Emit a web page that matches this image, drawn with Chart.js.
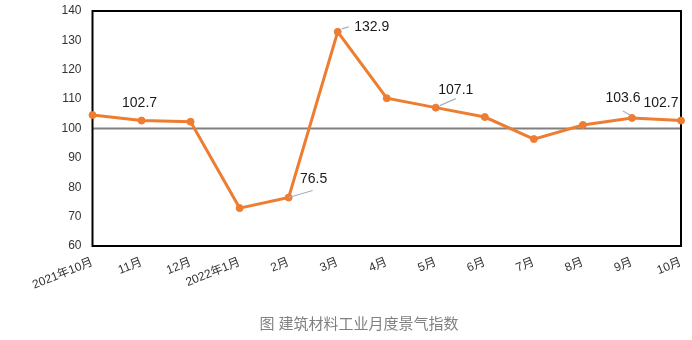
<!DOCTYPE html>
<html><head><meta charset="utf-8">
<script src="https://cdn.jsdelivr.net/npm/chart.js@4"></script>
<style>html,body{margin:0;padding:0;background:#fff}#wrap{width:692px;height:340px;position:relative}</style>
</head><body><div id="wrap"><canvas id="c"></canvas></div>
<script>
const categories = ['2021年10月','11月','12月','2022年1月','2月','3月','4月','5月','6月','7月','8月','9月','10月'];
const indexValues = [104.6,102.7,102.3,72.9,76.5,132.9,110.3,107.1,103.9,96.4,101.2,103.6,102.7];
const yTicks = [60,70,80,90,100,110,120,130,140];
const referenceValue = 100;
const labeledIndices = [1,4,5,7,11,12];
const chartTitle = '图 建筑材料工业月度景气指数';

// label placement styles (relative to the point)
const labelStyle = {
  1:{dx:-2,dy:-17.5},
  4:{dx:25,dy:-18,leader:[0,0,24,-7]},
  5:{dx:34,dy:-4.5,leader:[4,-3,11,-5]},
  7:{dx:20,dy:-17.5,leader:[4,-2,20,-9]},
  11:{dx:-9,dy:-20,leader:[-9,-7,-2,-3]},
  12:{dx:-20,dy:-17.5}
};
const FONT = '"Liberation Sans","Noto Sans CJK SC",sans-serif';

const overlay = {
  id:'overlay',
  beforeDatasetsDraw(chart){
    const {ctx, chartArea:a, scales:{y}} = chart;
    const py = y.getPixelForValue(referenceValue);
    ctx.save();
    ctx.strokeStyle = '#808080'; ctx.lineWidth = 2;
    ctx.beginPath(); ctx.moveTo(a.left, py); ctx.lineTo(a.right, py); ctx.stroke();
    ctx.strokeStyle = '#000'; ctx.lineWidth = 2;
    ctx.strokeRect(a.left, a.top, a.right - a.left, a.bottom - a.top);
    ctx.restore();
  },
  afterDatasetsDraw(chart){
    const {ctx} = chart;
    const meta = chart.getDatasetMeta(0);
    ctx.save();
    labeledIndices.forEach(i=>{
      const p = meta.data[i]; const s = labelStyle[i];
      if (s.leader){
        ctx.strokeStyle = '#a3b2c6'; ctx.lineWidth = 1.2;
        ctx.beginPath(); ctx.moveTo(p.x+s.leader[0], p.y+s.leader[1]); ctx.lineTo(p.x+s.leader[2], p.y+s.leader[3]); ctx.stroke();
      }
      ctx.fillStyle = '#1a1a1a'; ctx.font = '14px '+FONT;
      ctx.textAlign = 'center'; ctx.textBaseline = 'middle';
      ctx.fillText(indexValues[i].toFixed(1), p.x+s.dx, p.y+s.dy);
    });
    ctx.fillStyle = '#808080'; ctx.font = '15px '+FONT;
    ctx.textAlign = 'center'; ctx.textBaseline = 'middle';
    ctx.fillText(chartTitle, 359, 325);
    ctx.restore();
  }
};

new Chart(document.getElementById('c'), {
  type:'line',
  data:{labels:categories, datasets:[{
    data:indexValues, borderColor:'#ED7D31', backgroundColor:'#ED7D31',
    borderWidth:3, pointRadius:3.5, pointBorderWidth:1, pointHoverRadius:3.5, tension:0, clip:false
  }]},
  options:{
    responsive:true, maintainAspectRatio:false, animation:false,
    layout:{padding:{top:11,right:11,left:0,bottom:0}},
    plugins:{legend:{display:false}, tooltip:{enabled:false}, title:{display:false}},
    scales:{
      x:{
        offset:false,
        grid:{display:false, drawTicks:false}, border:{display:false},
        ticks:{autoSkip:false, maxRotation:22, minRotation:22, padding:9, color:'#333', font:{family:FONT, size:12}},
        afterFit(s){ s.height = 94; s.paddingLeft = 0; s.paddingRight = 0; s.paddingTop = 0; s.paddingBottom = 0; }
      },
      y:{
        min:60, max:140,
        afterBuildTicks(s){ s.ticks = yTicks.map(v=>({value:v})); },
        grid:{display:false, drawTicks:false}, border:{display:false},
        ticks:{padding:11, color:'#333', font:{family:FONT, size:12}},
        afterFit(s){ s.width = 92.5; s.paddingLeft = 0; s.paddingRight = 0; s.paddingTop = 0; s.paddingBottom = 0; }
      }
    }
  },
  plugins:[overlay]
});
</script></body></html>
